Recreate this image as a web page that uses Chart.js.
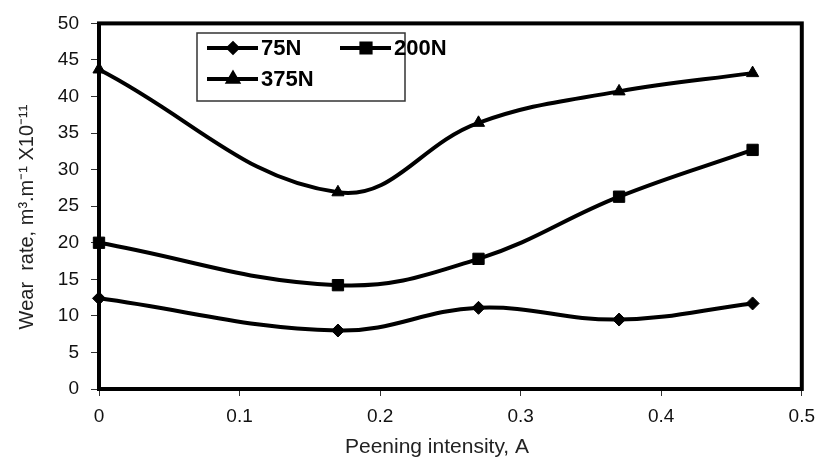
<!DOCTYPE html>
<html>
<head>
<meta charset="utf-8">
<script src="https://cdn.jsdelivr.net/npm/chart.js@4"></script>
<style>
  html, body { margin: 0; padding: 0; background: #fff; }
</style>
</head>
<body>
<canvas id="wearChart" width="824" height="470"></canvas>
<script>
// peening intensity (A) at which wear was measured
const intensity = [0, 0.17, 0.27, 0.37, 0.465];

// wear rate, m3/m x 10^-11, one array per applied load
const wear75 = [12.4, 8.0, 11.1, 9.5, 11.7];
const wear200 = [20.0, 14.2, 17.8, 26.3, 32.7];
const wear375 = [43.7, 26.9, 36.4, 40.7, 43.2];

const loadLabels = ["75N", "200N", "375N"];
const markerStyles = ["rectRot", "rect", "triangle"];
const markerSizes = [6.5, 8, 7];
const legendMarkerSizes = [4.5, 6.5, 5.5];

const xTicks = [0, 0.1, 0.2, 0.3, 0.4, 0.5];
const yTicks = [0, 5, 10, 15, 20, 25, 30, 35, 40, 45, 50];

const xTitle = "Peening intensity, A";
const yTitle = "Wear  rate, m³.m⁻¹ X10⁻¹¹";

const FONT = "'Liberation Sans', Arial, sans-serif";

function toPoints(values) {
  return values.map((v, i) => ({ x: intensity[i], y: v }));
}

const series = [wear75, wear200, wear375];

// thick black box round the plot area
const framePlugin = {
  id: "frame",
  beforeDatasetsDraw(chart) {
    const { ctx, chartArea: a } = chart;
    ctx.save();
    ctx.strokeStyle = "#000";
    ctx.lineWidth = 4;
    ctx.strokeRect(a.left, a.top, a.right - a.left, a.bottom - a.top);
    ctx.restore();
  }
};

// axis titles, placed by hand
const axisTitles = {
  id: "axisTitles",
  afterDraw(chart) {
    const ctx = chart.ctx;
    ctx.save();
    ctx.fillStyle = "#222";
    ctx.font = "21px " + FONT;
    ctx.textAlign = "center";
    ctx.textBaseline = "middle";
    ctx.fillText(xTitle, 437, 447);

    ctx.translate(27, 217);
    ctx.rotate(-Math.PI / 2);
    ctx.font = "20px " + FONT;
    ctx.fillText(yTitle, 0, 0);
    ctx.restore();
  }
};

// boxed legend sitting inside the plot, two columns
const boxLegend = {
  id: "boxLegend",
  afterDraw(chart) {
    const ctx = chart.ctx;
    const slots = [
      { x: 207, y: 48 },
      { x: 340, y: 48 },
      { x: 207, y: 79 }
    ];
    ctx.save();
    ctx.strokeStyle = "#333";
    ctx.lineWidth = 1.5;
    ctx.strokeRect(197, 33, 208, 68);

    chart.data.datasets.forEach((ds, i) => {
      const s = slots[i];
      ctx.strokeStyle = "#000";
      ctx.lineWidth = 4;
      ctx.beginPath();
      ctx.moveTo(s.x, s.y);
      ctx.lineTo(s.x + 51, s.y);
      ctx.stroke();

      ctx.fillStyle = "#000";
      Chart.helpers.drawPoint(ctx, {
        pointStyle: ds.pointStyle,
        radius: legendMarkerSizes[i],
        borderWidth: 1,
        rotation: 0
      }, s.x + 26, s.y);

      ctx.fillStyle = "#000";
      ctx.font = "bold 22px " + FONT;
      ctx.textBaseline = "middle";
      ctx.textAlign = "left";
      ctx.fillText(ds.label, s.x + 54, s.y + 1);
    });
    ctx.restore();
  }
};

new Chart(document.getElementById("wearChart"), {
  type: "line",
  data: {
    datasets: series.map((vals, i) => ({
      label: loadLabels[i],
      data: toPoints(vals),
      borderColor: "#000",
      backgroundColor: "#000",
      borderWidth: 4,
      pointStyle: markerStyles[i],
      pointRadius: markerSizes[i],
      pointBorderWidth: 1,
      pointBackgroundColor: "#000",
      pointBorderColor: "#000",
      tension: 0.4,
      clip: false
    }))
  },
  options: {
    responsive: false,
    animation: false,
    events: [],
    layout: {
      padding: { top: 22, right: 16, left: 0, bottom: 0 }
    },
    plugins: {
      legend: { display: false },
      tooltip: { enabled: false }
    },
    scales: {
      x: {
        type: "linear",
        min: 0,
        max: 0.5,
        afterBuildTicks: (scale) => {
          scale.ticks = xTicks.map((v) => ({ value: v }));
        },
        afterFit: (scale) => {
          scale.height = 81;
        },
        border: { display: false },
        grid: {
          drawOnChartArea: false,
          drawTicks: true,
          tickLength: 7,
          color: "#333",
          lineWidth: 1
        },
        ticks: {
          color: "#111",
          padding: 9,
          maxRotation: 0,
          font: { family: FONT, size: 19 },
          callback: (v) => String(Number(v.toFixed(2)))
        }
      },
      y: {
        min: 0,
        max: 50,
        afterBuildTicks: (scale) => {
          scale.ticks = yTicks.map((v) => ({ value: v }));
        },
        afterFit: (scale) => {
          scale.width = 99;
        },
        border: { display: false },
        grid: {
          drawOnChartArea: false,
          drawTicks: true,
          tickLength: 8,
          color: "#333",
          lineWidth: 1
        },
        ticks: {
          color: "#111",
          padding: 12,
          font: { family: FONT, size: 19 }
        }
      }
    }
  },
  plugins: [framePlugin, axisTitles, boxLegend]
});
</script>
</body>
</html>
